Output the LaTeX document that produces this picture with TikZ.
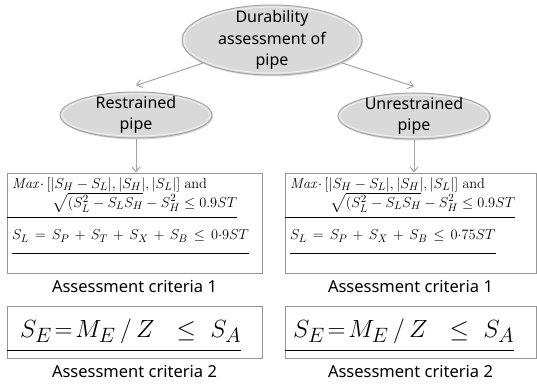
\documentclass[tikz,border=0pt]{standalone}
\usepackage{amsmath, amssymb}
\usepackage[no-math]{fontspec}
\setmainfont{Noto Sans}
\usepackage{tikz}
\usetikzlibrary{shapes.geometric, shadows, positioning, arrows.meta}

\definecolor{linegray}{RGB}{165,165,165}
\definecolor{boxgray}{RGB}{150,150,150}

\newcommand{\widespace}{\medmuskip=6.5mu\relax\thickmuskip=7.5mu\relax}

\tikzset{
  oval/.style={ellipse, inner sep=0pt, draw=gray!70, line width=1pt,
    fill=gray!30, drop shadow={opacity=0.3, shadow xshift=1pt, shadow yshift=-1.5pt}},
  ovalrim/.style={ellipse, inner sep=0pt, draw=white!85!gray, line width=1.2pt},
  ovaltext/.style={align=center, font=\fontsize{16}{21.5}\selectfont},
  flow/.style={-{Straight Barb[length=5pt, width=8pt]}, draw=linegray, line width=1pt},
  critbox/.style={draw=boxgray, line width=0.8pt, inner sep=0pt},
  eqblock/.style={anchor=north west, inner sep=0pt, align=left, font=\fontsize{15.6}{19}\selectfont},
  eqline/.style={anchor=west, inner sep=0pt, font=\fontsize{15.6}{19}\selectfont},
  bigeq/.style={anchor=west, inner sep=0pt, font=\fontsize{29}{30}\selectfont},
  critlabel/.style={font=\fontsize{16.5}{18}\selectfont}
}

\begin{document}
\begin{tikzpicture}[x=1pt, y=-1pt, node distance=3pt]
  \useasboundingbox (0,0) rectangle (537,385);

  % ovals
  \node[oval, minimum width=180pt, minimum height=70pt] (dur) at (272,40) {};
  \node[ovalrim, minimum width=176pt, minimum height=66pt] at (dur) {};
  \node[ovaltext] (durtext) at (dur) {Durability\\assessment of\\pipe};
  \node[oval, minimum width=152pt, minimum height=46pt] (rest) at (136,115) {};
  \node[ovalrim, minimum width=148pt, minimum height=42pt] at (rest) {};
  \node[ovaltext] (resttext) at (rest) {Restrained\\pipe};
  \node[oval, minimum width=152pt, minimum height=46pt] (unrest) at (414,116) {};
  \node[ovalrim, minimum width=148pt, minimum height=42pt] at (unrest) {};
  \node[ovaltext] (unresttext) at (unrest) {Unrestrained\\pipe};

  % criteria 1 boxes
  \node[critbox, minimum width=255pt, minimum height=100pt] (boxL) at (134.5,223) {};
  \node[critbox, minimum width=251pt, minimum height=100pt] (boxR) at (410.5,223) {};

  \draw[flow] (dur) -- ([yshift=6pt]rest.north);
  \draw[flow] (dur) -- ([yshift=6pt]unrest.north);
  \draw[flow] (rest.south) -- (rest.south |- boxL.north);
  \draw[flow] (unrest.south) -- (unrest.south |- boxR.north);

  \node[eqblock] (maxL) at (12,177)
    {$\mathit{Max}{\cdot}\,[|S_H-S_L|,|S_H|,|S_L|]\ \mathrm{and}$\\
     \hspace*{40pt}$\sqrt{(S_L^2-S_LS_H}-S_H^2\le 0.9ST$};
  \node[eqline] (slL) at (12,236) {$\widespace S_L=S_P+S_T+S_X+S_B\le 0{\cdot}9ST$};
  \draw[line width=0.7pt] ([yshift=-5pt]boxL.west |- maxL.south) -- ([yshift=-5pt]maxL.south east);
  \draw[line width=0.7pt] ([yshift=-11pt]slL.south west) -- ([yshift=-11pt]slL.south east);

  \node[eqblock] (maxR) at (290,177)
    {$\mathit{Max}{\cdot}\,[|S_H-S_L|,|S_H|,|S_L|]\ \mathrm{and}$\\
     \hspace*{40pt}$\sqrt{(S_L^2-S_LS_H}-S_H^2\le 0.9ST$};
  \node[eqline] (slR) at (290,236) {$\widespace S_L=S_P+S_X+S_B\le 0{\cdot}75ST$};
  \draw[line width=0.7pt] ([yshift=-5pt]boxR.west |- maxR.south) -- ([yshift=-5pt]maxR.south east);
  \draw[line width=0.7pt] ([yshift=-11pt]slR.south west) -- ([yshift=-11pt]slR.south east);

  \node[critlabel, below=of boxL] (critL1) {Assessment criteria 1};
  \node[critlabel, below=of boxR] (critR1) {Assessment criteria 1};

  % criteria 2 boxes
  \node[critbox, minimum width=255pt, minimum height=52pt] (lowL) at (134.5,332) {};
  \node[critbox, minimum width=251pt, minimum height=52pt] (lowR) at (410.5,332) {};
  \node[bigeq] (seL) at (20,331) {$S_E\!=\!M_E\,/\,Z\ \ \le\ S_A$};
  \node[bigeq] (seR) at (293,331) {$S_E\!=\!M_E\,/\,Z\ \ \le\ S_A$};
  \draw[line width=0.8pt] (lowL.west |- 0,350) -- (seL.east |- 0,350);
  \draw[line width=0.8pt] (lowR.west |- 0,350) -- (seR.east |- 0,350);

  \node[critlabel, below=of lowL] (critL2) {Assessment criteria 2};
  \node[critlabel, below=of lowR] (critR2) {Assessment criteria 2};
\end{tikzpicture}
\end{document}
